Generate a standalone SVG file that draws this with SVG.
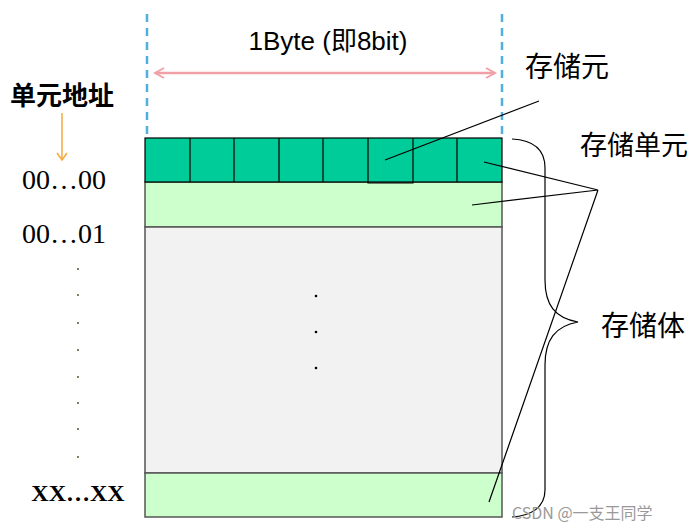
<svg xmlns="http://www.w3.org/2000/svg" width="699" height="529" viewBox="0 0 699 529">
<defs>
<style>
.cjk{font-family:"Noto Sans CJK SC","Liberation Sans",sans-serif;fill:#000}
.ser{font-family:"Liberation Serif",serif;fill:#000}
.ln{stroke:#000;stroke-width:1.2;fill:none}
.cell{fill:#00CC99;stroke:#000;stroke-width:1.2}
.row{fill:#CCFFCC;stroke:#555;stroke-width:1.5}
</style>
<marker id="pa" viewBox="0 0 12 12" refX="10" refY="6" markerWidth="12" markerHeight="12" orient="auto-start-reverse" markerUnits="userSpaceOnUse"><path d="M1,1 L10,6 L1,11" fill="none" stroke="#F2A0A8" stroke-width="2"/></marker>
<marker id="oa" viewBox="0 0 12 12" refX="6" refY="11" markerWidth="12" markerHeight="12" orient="0" markerUnits="userSpaceOnUse"><path d="M1,4 L6,11 L11,4" fill="none" stroke="#F5A940" stroke-width="1.5"/></marker>
</defs>
<rect width="699" height="529" fill="#fff"/>
<g id="memory">
<rect x="145" y="182" width="357" height="45" class="row"/>
<rect x="145" y="227" width="357" height="246" fill="#F2F2F2" stroke="#555" stroke-width="1.5"/>
<rect x="145" y="473" width="357" height="44" class="row"/>
<rect x="145" y="138" width="357" height="44" class="cell"/>
<path class="ln" d="M190,138V182M234,138V182M279,138V182M323,138V182M368,138V183H413V138M457,138V182"/>
<circle cx="316" cy="296" r="1.3"/><circle cx="316" cy="332" r="1.3"/><circle cx="316" cy="368" r="1.3"/>
</g>
<g id="width">
<path d="M147,14V136M502,14V136" stroke="#4DB0E0" stroke-width="2.5" stroke-dasharray="8,6"/>
<line x1="155" y1="73" x2="495" y2="73" stroke="#F2A0A8" stroke-width="2.5" marker-start="url(#pa)" marker-end="url(#pa)"/>
<text x="328" y="50" font-family="Liberation Sans, 'Noto Sans CJK SC', sans-serif" font-size="26" text-anchor="middle">1Byte (即8bit)</text>
</g>
<g id="addresses">
<text x="62" y="105" class="cjk" font-size="26" font-weight="bold" text-anchor="middle">单元地址</text>
<line x1="62" y1="113" x2="62" y2="160" stroke="#F5A940" stroke-width="1.5" marker-end="url(#oa)"/>
<text x="64" y="189" class="ser" font-size="28" fill="#222" text-anchor="middle">00…00</text>
<text x="64" y="243" class="ser" font-size="28" fill="#222" text-anchor="middle">00…01</text>
<g fill="#553">
<circle cx="78" cy="269" r="1"/><circle cx="78" cy="295" r="1"/><circle cx="78" cy="323" r="1"/><circle cx="78" cy="350" r="1"/><circle cx="78" cy="377" r="1"/><circle cx="78" cy="403" r="1"/><circle cx="78" cy="429" r="1"/><circle cx="78" cy="457" r="1"/>
</g>
<text x="78" y="501" class="ser" font-size="24" font-weight="bold" text-anchor="middle">XX…XX</text>
</g>
<g id="labels">
<text x="567" y="77" class="cjk" font-size="28" text-anchor="middle">存储元</text>
<text x="634" y="155" class="cjk" font-size="27" text-anchor="middle">存储单元</text>
<text x="643" y="336" class="cjk" font-size="28" text-anchor="middle">存储体</text>
</g>
<g id="connectors">
<path class="ln" d="M539,101L385,160"/>
<path class="ln" d="M598,190L484,162M598,190L472,205M598,190L489,502"/>
<path class="ln" d="M512,139C532,140 545,148 545,168V280C545,305 555,318 578,322C555,326 545,340 545,365V490C545,508 530,516 512,517"/>
</g>
<text x="512" y="519" font-family="'Noto Sans CJK SC',sans-serif" font-size="16" fill="#999">CSDN @一支王同学</text>
</svg>
